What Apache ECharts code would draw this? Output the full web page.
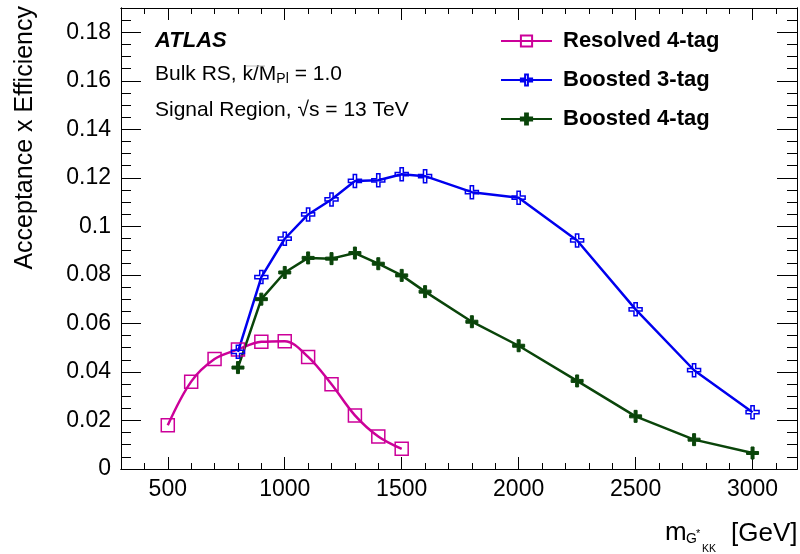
<!DOCTYPE html>
<html>
<head>
<meta charset="utf-8">
<script src="https://cdn.jsdelivr.net/npm/echarts@6/dist/echarts.min.js"></script>
<style>
html,body{margin:0;padding:0;background:#fff;}
#chart{width:800px;height:554px;}
</style>
</head>
<body>
<div id="chart"></div>
<script>
// ---- data ----
const massResolved = [500, 600, 700, 800, 900, 1000, 1100, 1200, 1300, 1400, 1500];
const effResolved = [0.018, 0.036, 0.0453, 0.0493, 0.0524, 0.0527, 0.0462, 0.0349, 0.0221, 0.0134, 0.0083];
const massBoosted = [800, 900, 1000, 1100, 1200, 1300, 1400, 1500, 1600, 1800, 2000, 2250, 2500, 2750, 3000];
const effBoosted3 = [0.0483, 0.0791, 0.0949, 0.1049, 0.1111, 0.1187, 0.119, 0.1215, 0.1207, 0.1141, 0.1118, 0.0942, 0.0658, 0.0407, 0.0234];
const effBoosted4 = [0.0418, 0.070, 0.081, 0.087, 0.0867, 0.089, 0.0846, 0.0798, 0.0731, 0.0607, 0.0508, 0.0363, 0.0217, 0.0121, 0.0066];
const seriesNames = ['Resolved 4-tag', 'Boosted 3-tag', 'Boosted 4-tag'];

// ---- ticks ----
const xMajorTicks = [500, 1000, 1500, 2000, 2500, 3000];
const xMinorTicks = [300, 400, 600, 700, 800, 900, 1100, 1200, 1300, 1400, 1600, 1700, 1800, 1900, 2100, 2200, 2300, 2400, 2600, 2700, 2800, 2900, 3100];
const yMajorTicks = [0, 0.02, 0.04, 0.06, 0.08, 0.1, 0.12, 0.14, 0.16, 0.18];
const yMinorTicks = [0.005, 0.01, 0.015, 0.025, 0.03, 0.035, 0.045, 0.05, 0.055, 0.065, 0.07, 0.075, 0.085, 0.09, 0.095, 0.105, 0.11, 0.115, 0.125, 0.13, 0.135, 0.145, 0.15, 0.155, 0.165, 0.17, 0.175, 0.185];

const X_MIN = 300, X_MAX = 3190, Y_MIN = 0, Y_MAX = 0.19;
const FONT = '"Liberation Sans", Arial, Helvetica, sans-serif';

const colResolved = '#cc0099';
const colB3 = '#0000ee';
const colB4 = '#0a450a';

function pairs(xs, ys) { return xs.map((x, i) => [x, ys[i]]); }

const plusPath = 'path://M3,0 H5 V3 H8 V5 H5 V8 H3 V5 H0 V3 H3 Z';

function xAx(pos, ticks, len, labels) {
  return {
    type: 'value', position: pos, min: X_MIN, max: X_MAX,
    axisLine: { show: true, onZero: false, lineStyle: { color: '#000', width: 1 } },
    axisTick: { show: true, inside: true, length: len, customValues: ticks, lineStyle: { color: '#000', width: 1 } },
    axisLabel: labels ? { show: true, customValues: ticks, fontSize: 23, color: '#000', fontFamily: FONT, margin: 9,
      formatter: v => String(Math.round(v)) } : { show: false },
    splitLine: { show: false }
  };
}
function yAx(pos, ticks, len, labels) {
  return {
    type: 'value', position: pos, min: Y_MIN, max: Y_MAX,
    axisLine: { show: true, onZero: false, lineStyle: { color: '#000', width: 1 } },
    axisTick: { show: true, inside: true, length: len, customValues: ticks, lineStyle: { color: '#000', width: 1 } },
    axisLabel: labels ? { show: true, customValues: ticks, fontSize: 23, color: '#000', fontFamily: FONT, margin: 10,
      formatter: v => String(+(+v).toFixed(3)) } : { show: false },
    splitLine: { show: false }
  };
}

const chart = echarts.init(document.getElementById('chart'), null, { renderer: 'canvas' });
chart.setOption({
  animation: false,
  backgroundColor: '#fff',
  grid: { left: 121, right: 3, top: 8, bottom: 85 },
  xAxis: [
    xAx('bottom', xMajorTicks, 12, true),
    xAx('bottom', xMinorTicks, 6, false),
    xAx('top', xMajorTicks, 12, false),
    xAx('top', xMinorTicks, 6, false)
  ],
  yAxis: [
    yAx('left', yMajorTicks, 20, true),
    yAx('left', yMinorTicks, 10, false),
    yAx('right', yMajorTicks, 20, false),
    yAx('right', yMinorTicks, 10, false)
  ],
  legend: {
    orient: 'vertical', left: 500, top: 30, padding: 0,
    itemWidth: 51, itemHeight: 14, itemGap: 17,
    data: seriesNames,
    textStyle: { fontSize: 22, fontWeight: 'bold', color: '#000', fontFamily: FONT, lineHeight: 20, padding: [0, 0, 0, 6] }
  },
  series: [
    {
      name: seriesNames[0], type: 'line', data: pairs(massResolved, effResolved),
      smooth: 0.35, symbol: 'rect', symbolSize: 13,
      lineStyle: { color: colResolved, width: 2.5 },
      itemStyle: { color: 'rgba(255,255,255,0)', borderColor: colResolved, borderWidth: 1.5 }
    },
    {
      name: seriesNames[1], type: 'line', data: pairs(massBoosted, effBoosted3),
      symbol: plusPath, symbolSize: 13,
      lineStyle: { color: colB3, width: 2.5 },
      itemStyle: { color: 'rgba(255,255,255,0)', borderColor: colB3, borderWidth: 1.5 }
    },
    {
      name: seriesNames[2], type: 'line', data: pairs(massBoosted, effBoosted4),
      symbol: plusPath, symbolSize: 12,
      lineStyle: { color: colB4, width: 2.5 },
      itemStyle: { color: colB4, borderColor: colB4, borderWidth: 1 }
    }
  ],
  graphic: [
    { type: 'text', left: 155, top: 30, style: { text: 'ATLAS', fontSize: 22, fontWeight: 'bold', fontStyle: 'italic', fill: '#000', fontFamily: FONT } },
    { type: 'text', left: 155, top: 64, style: {
      text: 'Bulk RS, k/M{sub|Pl} = 1.0', fontSize: 21, fill: '#000', fontFamily: FONT,
      rich: { sub: { fontSize: 14, fontFamily: FONT, fill: '#000', padding: [10, 0, 0, 0] } } } },
    { type: 'line', shape: { x1: 246, y1: 66, x2: 265, y2: 66 }, style: { stroke: '#bbb', lineWidth: 1 } },
    { type: 'text', left: 155, top: 100, style: { text: 'Signal Region, \u221As = 13 TeV', fontSize: 21, fill: '#000', fontFamily: FONT } },
    { type: 'text', x: 25, y: 6, rotation: Math.PI / 2, style: { text: 'Acceptance x Efficiency', fontSize: 25, fill: '#000', fontFamily: FONT, align: 'right', verticalAlign: 'middle' } },
    { type: 'text', x: 665, y: 546, style: { text: 'm', fontSize: 26, fill: '#000', fontFamily: FONT, verticalAlign: 'bottom' } },
    { type: 'text', x: 686, y: 546, style: { text: 'G', fontSize: 14, fill: '#000', fontFamily: FONT, verticalAlign: 'bottom' } },
    { type: 'text', x: 696, y: 528, style: { text: '*', fontSize: 11, fill: '#000', fontFamily: FONT, verticalAlign: 'top' } },
    { type: 'text', x: 702, y: 555, style: { text: 'KK', fontSize: 10.5, fill: '#000', fontFamily: FONT, verticalAlign: 'bottom' } },
    { type: 'text', x: 731, y: 547, style: { text: '[GeV]', fontSize: 26, fill: '#000', fontFamily: FONT, verticalAlign: 'bottom' } }
  ]
});
</script>
</body>
</html>
